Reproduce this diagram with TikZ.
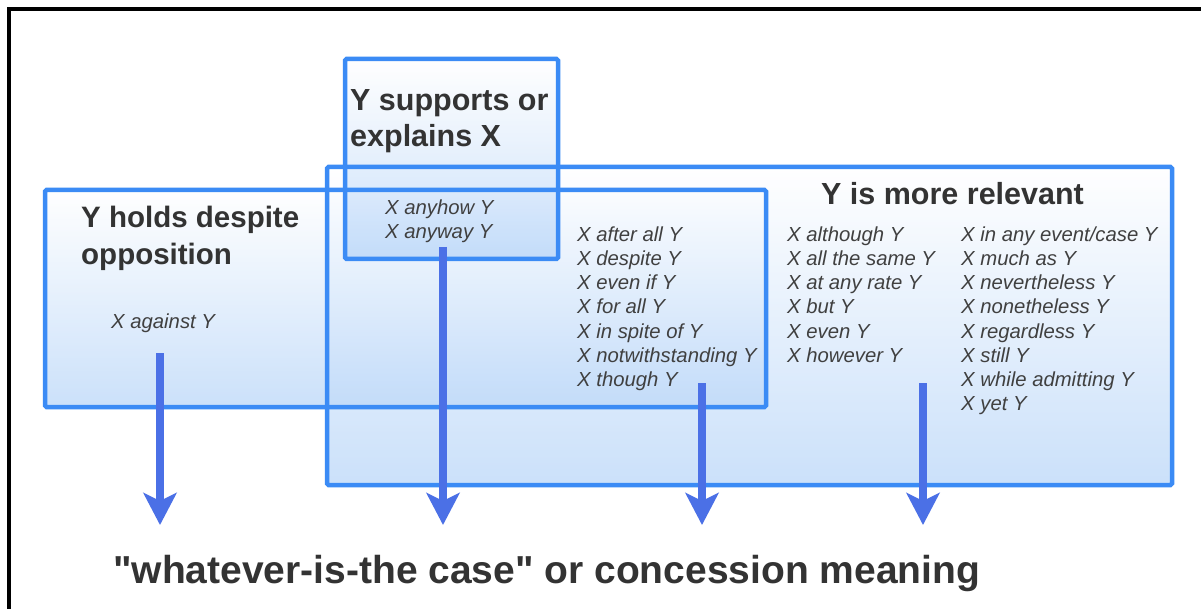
\documentclass[tikz,border=0pt]{standalone}
\usepackage{fontspec}
\setmainfont{Liberation Sans}[Ligatures=TeXOff]
\usetikzlibrary{arrows.meta}
\definecolor{boxline}{HTML}{3B8BF5}
\definecolor{boxfill}{HTML}{A9CDF7}
\definecolor{arrowblue}{HTML}{4B70E6}
\definecolor{headtext}{HTML}{333333}
\definecolor{itemtext}{HTML}{404040}
\begin{document}
\begin{tikzpicture}[x=1pt,y=-1pt,
  boxshade/.style={top color=white,bottom color=boxfill,fill opacity=0.6},
  boxedge/.style={draw=boxline,line width=4.5pt,rounded corners=1.5pt},
  heading/.style={font=\bfseries\fontsize{30.5}{36}\selectfont,text=headtext,inner sep=0pt,anchor=base west},
  caption/.style={font=\bfseries\fontsize{39}{44}\selectfont,text=headtext,inner sep=0pt,anchor=base west},
  item/.style={font=\itshape\fontsize{20.3}{24}\selectfont,text=itemtext,inner sep=0pt,anchor=base west},
  bigarrow/.style={draw=arrowblue,line width=7.5pt,-{Stealth[length=32pt,width=33pt,inset=8pt]}},
  frameline/.style={draw=black,line width=3.5pt},
]
\useasboundingbox (0,0) rectangle (1201,609);
\clip (0,0) rectangle (1201,609);
\fill[white] (0,0) rectangle (1201,609);

% outer frame (runs past the right and bottom edges)
\draw[frameline] (9,9) rectangle (1230,640);

% translucent gradient fills of the three groups
\shade[boxshade] (45,190) rectangle (766,407);
\shade[boxshade] (327,167) rectangle (1172,485);
\shade[boxshade] (345,59) rectangle (558,259);

% group outlines
\draw[boxedge] (45,190) rectangle (766,407);
\draw[boxedge] (327,167) rectangle (1172,485);
\draw[boxedge] (345,59) rectangle (558,259);

% headings
\node[heading,font=\bfseries\fontsize{29.5}{36}\selectfont] (hA1) at (81,228) {Y holds despite};
\node[heading,font=\bfseries\fontsize{29.5}{36}\selectfont] (hA2) at (81,265) {opposition};
\node[heading] (hB1) at (350,111) {Y supports or};
\node[heading] (hB2) at (350,147) {explains X};
\node[heading,anchor=base] (hC) at (952.5,205) {Y is more relevant};

% connective lists
\node[item] (lA) at (111,329) {X against Y};
\foreach \t [count=\i] in {X anyhow Y,X anyway Y}
  \node[item] (lB-\i) at (385,{215+24*(\i-1)}) {\t};
\foreach \t [count=\i] in {X after all Y,X despite Y,X even if Y,X for all Y,X in spite of Y,X notwithstanding Y,X though Y}
  \node[item] (lAC-\i) at (577,{242+24*(\i-1)}) {\t};
\foreach \t [count=\i] in {X although Y,X all the same Y,X at any rate Y,X but Y,X even Y,X however Y}
  \node[item] (lC-\i) at (787,{242+24*(\i-1)}) {\t};
\foreach \t [count=\i] in {X in any event/case Y,X much as Y,X nevertheless Y,X nonetheless Y,X regardless Y,X still Y,X while admitting Y,X yet Y}
  \node[item] (lD-\i) at (961,{242+24*(\i-1)}) {\t};

% common meaning
\node[caption] (meaning) at (113,583) {"whatever-is-the case" or concession meaning};

% arrows towards the common meaning
\coordinate (s1) at (160,353);
\coordinate (s2) at (443,247);
\coordinate (s3) at (702,383);
\coordinate (s4) at (923,383);
\coordinate (e1) at (160,525);
\coordinate (e2) at (443,525);
\coordinate (e3) at (702,525);
\coordinate (e4) at (923,525);
\foreach \k in {1,2,3,4}
  \draw[bigarrow] (s\k) -- (e\k);
\end{tikzpicture}
\end{document}
